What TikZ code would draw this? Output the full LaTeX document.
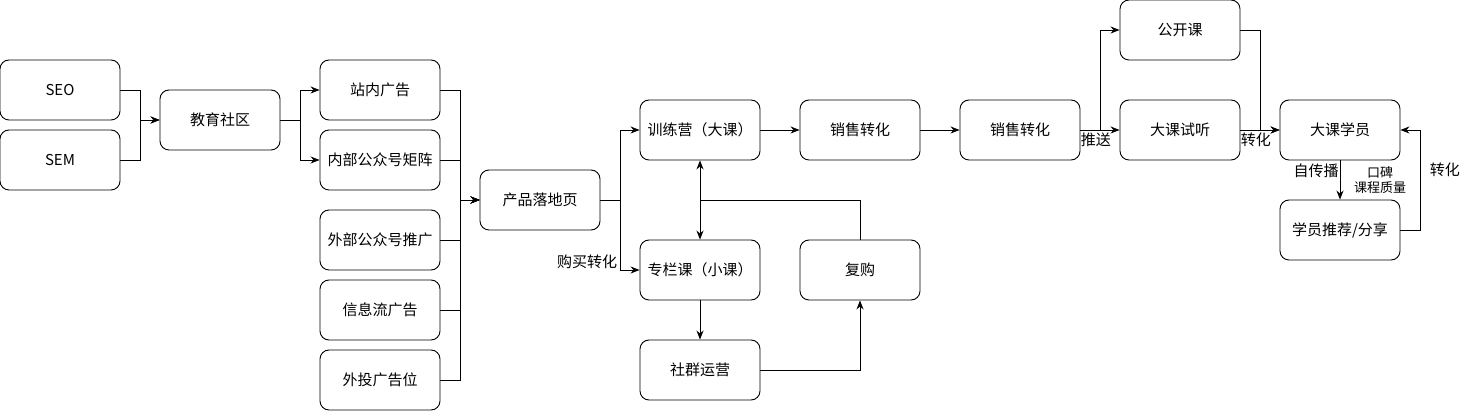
\documentclass[tikz,border=0pt]{standalone}
\usepackage{fontspec}
\setmainfont{Noto Sans CJK SC}
\usetikzlibrary{arrows.meta}

\begin{document}
\begin{tikzpicture}[x=1pt,y=-1pt,line width=0.9pt,
  box/.style={draw, rounded corners=9pt, minimum width=120pt, minimum height=60pt, inner sep=0pt, font=\fontsize{15}{18}\selectfont},
  lbl/.style={inner sep=0pt, font=\fontsize{15}{18}\selectfont},
  smalllbl/.style={inner sep=0pt, align=center, font=\fontsize{13}{15}\selectfont},
  arr/.style={-{Stealth[length=9pt,width=7pt]}},
  arrboth/.style={{Stealth[length=9pt,width=7pt]}-{Stealth[length=9pt,width=7pt]}}]
\useasboundingbox (0,0) rectangle (1462,411);

\node[box] (seo) at (60,90) {SEO};
\node[box] (sem) at (60,160) {SEM};
\node[box] (community) at (220,120) {教育社区};
\node[box] (adInner) at (380,90) {站内广告};
\node[box] (adMatrix) at (380,160) {内部公众号矩阵};
\node[box] (adOuter) at (380,240) {外部公众号推广};
\node[box] (adFeed) at (380,310) {信息流广告};
\node[box] (adSlot) at (380,380) {外投广告位};
\node[box] (landing) at (540,200) {产品落地页};
\node[box] (camp) at (700,130) {训练营（大课）};
\node[box] (column) at (700,270) {专栏课（小课）};
\node[box] (group) at (700,370) {社群运营};
\node[box] (rebuy) at (860,270) {复购};
\node[box] (salesA) at (860,130) {销售转化};
\node[box] (salesB) at (1020,130) {销售转化};
\node[box] (open) at (1180,30) {公开课};
\node[box] (trial) at (1180,130) {大课试听};
\node[box] (student) at (1340,130) {大课学员};
\node[box] (share) at (1340,230) {学员推荐/分享};
\node[smalllbl] (quality) at (1380,180) {口碑\\课程质量};

\draw[arr] (seo.east) -- ++(20,0) |- (community.west);
\draw[arr] (sem.east) -- ++(20,0) |- (community.west);
\draw[arr] (community.east) -- ++(20,0) |- (adInner.west);
\draw[arr] (community.east) -- ++(20,0) |- (adMatrix.west);
\foreach \n in {adInner,adMatrix,adOuter,adFeed,adSlot}
  \draw[arr] (\n.east) -- ++(20,0) |- (landing.west);
\draw[arr] (landing.east) -- ++(20,0) |- (camp.west);
\draw[arr] (landing.east) -- ++(20,0) |- node[lbl, pos=0.5, anchor=south east, xshift=-3pt, yshift=1pt] {购买转化} (column.west);
\draw[arrboth] (camp) -- (column);
\draw (rebuy.north) |- (camp.south |- landing.center);
\draw[arr] (column) -- (group);
\draw[arr] (group.east) -| (rebuy.south);
\draw[arr] (camp) -- (salesA);
\draw[arr] (salesA) -- (salesB);
\draw[arr] (salesB.east) -- ++(20,0) |- (open.west);
\draw[arr] (salesB) -- node[lbl, pos=0, anchor=north west, yshift=-2pt] {推送} (trial);
\draw[arr] (open.east) -- ++(20,0) |- (student.west);
\draw[arr] (trial) -- node[lbl, pos=0, anchor=north west, yshift=-2pt] {转化} (student);
\draw[arr] (student) -- node[lbl, pos=0, anchor=north east, xshift=-1pt, yshift=-3pt] {自传播} (share);
\draw[arr] (share.east) -- ++(20,0) |- node[lbl, pos=0.3, anchor=west, xshift=9pt] {转化} (student.east);
\end{tikzpicture}
\end{document}
